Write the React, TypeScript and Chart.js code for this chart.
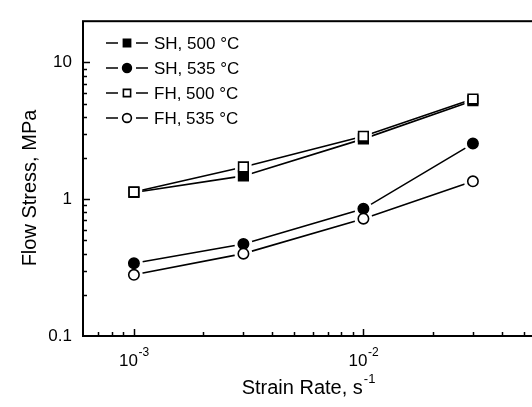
import React, { useEffect, useRef } from 'react';
import { Chart, registerables } from 'chart.js';

Chart.register(...registerables);

// ---- data ----
const strainRates = [1e-3, 3e-3, 1e-2, 3e-2];
const sh500 = [1.12, 1.48, 2.76, 5.25];
const sh535 = [0.34, 0.47, 0.85, 2.55];
const fh500 = [1.13, 1.72, 2.88, 5.4];
const fh535 = [0.28, 0.4, 0.72, 1.35];
const seriesLabels = ['SH, 500 °C', 'SH, 535 °C', 'FH, 500 °C', 'FH, 535 °C'];
const seriesValues = [sh500, sh535, fh500, fh535];
const seriesShapes = ['rect', 'circle', 'rect', 'circle'];
const seriesFilled = [true, true, false, false];

const yMajorTicks = [0.1, 1, 10];
const yTickLabels = ['0.1', '1', '10'];
const xMajorTicks = [1e-3, 1e-2];
const xTickExponents = ['-3', '-2'];
const xTitle = 'Strain Rate, s';
const xTitleSup = '-1';
const yTitle = 'Flow Stress, MPa';
const X_MIN = 6e-4;
const X_MAX = 6e-2;
const Y_MIN = 0.1;
const Y_MAX = 20;

const FONT = '"Liberation Sans", Arial, Helvetica, sans-serif';
const W = 560;
const H = 407;

function markerRadius(shape: string) {
  return shape === 'rect' ? 6.8 : 5.2;
}

function drawMarker(ctx: CanvasRenderingContext2D, shape: string, filled: boolean, x: number, y: number) {
  ctx.save();
  ctx.lineWidth = 1.6;
  ctx.strokeStyle = '#000';
  ctx.fillStyle = filled ? '#000' : '#fff';
  ctx.beginPath();
  if (shape === 'rect') {
    const s = 3.6;
    ctx.rect(x - s, y - s, 2 * s, 2 * s);
  } else {
    ctx.arc(x, y, 4.4, 0, Math.PI * 2);
  }
  ctx.fill();
  ctx.stroke();
  ctx.restore();
}

const decorPlugin = {
  id: 'decor',
  afterDatasetDraw(chart: any, args: any) {
    // after the last connecting line is drawn, clear a small gap round every marker
    const ds = chart.data.datasets[args.index];
    if (!ds || ds.label !== seriesLabels[0] + ' line') return;
    const ctx: CanvasRenderingContext2D = chart.ctx;
    const xs = chart.scales.x;
    const ys = chart.scales.y;
    ctx.save();
    ctx.fillStyle = '#fff';
    seriesValues.forEach((vals, i) => {
      strainRates.forEach((x, j) => {
        const px = xs.getPixelForValue(x);
        const py = ys.getPixelForValue(vals[j]);
        ctx.beginPath();
        if (seriesShapes[i] === 'rect') {
          const s = 8.2;
          ctx.rect(px - s, py - s, 2 * s, 2 * s);
        } else {
          ctx.arc(px, py, 9, 0, Math.PI * 2);
        }
        ctx.fill();
      });
    });
    ctx.restore();
  },
  afterDraw(chart: any) {
    const ctx: CanvasRenderingContext2D = chart.ctx;
    const { left, right, top, bottom } = chart.chartArea;
    const xs = chart.scales.x;
    const ys = chart.scales.y;
    ctx.save();
    // frame
    ctx.strokeStyle = '#000';
    ctx.lineWidth = 2;
    ctx.strokeRect(left, top, right - left, bottom - top);

    // ticks (inward)
    ctx.lineWidth = 1.5;
    const xTickVals: { v: number; major: boolean }[] = [];
    for (let d = -4; d <= -2; d++) {
      for (let m = 1; m <= 9; m++) {
        const v = m * Math.pow(10, d);
        if (v > X_MIN * 1.0001 && v < X_MAX * 0.9999) xTickVals.push({ v, major: m === 1 });
      }
    }
    xTickVals.forEach(({ v, major }) => {
      const px = Math.round(xs.getPixelForValue(v)) + 0.5;
      ctx.beginPath();
      ctx.moveTo(px, bottom);
      ctx.lineTo(px, bottom - (major ? 7 : 4));
      ctx.stroke();
    });
    const yTickVals: { v: number; major: boolean }[] = [];
    for (let d = -1; d <= 1; d++) {
      for (let m = 1; m <= 9; m++) {
        const v = m * Math.pow(10, d);
        if (v > Y_MIN * 1.0001 && v < Y_MAX * 0.9999) yTickVals.push({ v, major: m === 1 });
      }
    }
    yTickVals.forEach(({ v, major }) => {
      const py = Math.round(ys.getPixelForValue(v)) + 0.5;
      ctx.beginPath();
      ctx.moveTo(left, py);
      ctx.lineTo(left + (major ? 7 : 4), py);
      ctx.stroke();
    });

    // x tick labels with superscript
    ctx.fillStyle = '#000';
    ctx.textBaseline = 'alphabetic';
    xMajorTicks.forEach((v, i) => {
      const px = xs.getPixelForValue(v);
      ctx.font = `17px ${FONT}`;
      const wb = ctx.measureText('10').width;
      ctx.font = `12px ${FONT}`;
      const we = ctx.measureText(xTickExponents[i]).width;
      const x0 = px - (wb + we) / 2;
      ctx.font = `17px ${FONT}`;
      ctx.textAlign = 'left';
      ctx.fillText('10', x0, bottom + 30);
      ctx.font = `12px ${FONT}`;
      ctx.fillText(xTickExponents[i], x0 + wb + 0.5, bottom + 20);
    });

    // x title
    ctx.font = `20px ${FONT}`;
    const wt = ctx.measureText(xTitle).width;
    ctx.font = `13px ${FONT}`;
    const ws = ctx.measureText(xTitleSup).width;
    const cx = 308;
    const tx0 = cx - (wt + ws) / 2;
    ctx.font = `20px ${FONT}`;
    ctx.textAlign = 'left';
    ctx.fillText(xTitle, tx0, bottom + 58);
    ctx.font = `13px ${FONT}`;
    ctx.fillText(xTitleSup, tx0 + wt + 1, bottom + 47);

    // y title
    ctx.save();
    ctx.translate(30, 188);
    ctx.rotate(-Math.PI / 2);
    ctx.font = `20px ${FONT}`;
    ctx.textAlign = 'center';
    ctx.textBaseline = 'middle';
    ctx.fillText(yTitle, 0, 0);
    ctx.restore();

    // legend
    seriesLabels.forEach((label, i) => {
      const ly = 43 + i * 25;
      ctx.lineWidth = 1.6;
      ctx.strokeStyle = '#000';
      ctx.beginPath();
      ctx.moveTo(106, ly);
      ctx.lineTo(118, ly);
      ctx.moveTo(136, ly);
      ctx.lineTo(148, ly);
      ctx.stroke();
      drawMarker(ctx, seriesShapes[i], seriesFilled[i], 127, ly);
      ctx.font = `17px ${FONT}`;
      ctx.fillStyle = '#000';
      ctx.textAlign = 'left';
      ctx.textBaseline = 'middle';
      ctx.fillText(label, 154, ly + 1);
    });
    ctx.restore();
  },
};

export default function App() {
  const canvasRef = useRef<HTMLCanvasElement | null>(null);

  useEffect(() => {
    document.body.style.margin = '0';
    const canvas = canvasRef.current;
    if (!canvas) return;

    const datasets: any[] = [];
    seriesValues.forEach((vals, i) => {
      const pts = strainRates.map((x, j) => ({ x, y: vals[j] }));
      const shape = seriesShapes[i];
      const r = markerRadius(shape);
      datasets.push({
        label: seriesLabels[i] + ' line',
        data: pts,
        showLine: true,
        borderColor: '#000',
        borderWidth: 1.6,
        pointRadius: 0,
        order: 10,
      });
      datasets.push({
        label: seriesLabels[i],
        data: pts,
        showLine: false,
        pointStyle: shape,
        pointRadius: r,
        pointBackgroundColor: seriesFilled[i] ? '#000' : '#fff',
        pointBorderColor: '#000',
        pointBorderWidth: 1.6,
        order: seriesFilled[i] ? 2 : 1,
      });
    });

    const chart = new Chart(canvas, {
      type: 'scatter',
      data: { datasets },
      options: {
        responsive: false,
        animation: false,
        devicePixelRatio: 1,
        layout: { padding: { left: 0, top: 14, right: W - 542, bottom: 0 } },
        plugins: {
          legend: { display: false },
          tooltip: { enabled: false },
        },
        scales: {
          x: {
            type: 'logarithmic',
            min: X_MIN,
            max: X_MAX,
            grid: { display: false, drawTicks: false },
            border: { display: false },
            ticks: { display: false },
            afterFit: (scale: any) => {
              scale.height = 71;
            },
          },
          y: {
            type: 'logarithmic',
            min: Y_MIN,
            max: Y_MAX,
            grid: { display: false, drawTicks: false },
            border: { display: false },
            afterBuildTicks: (scale: any) => {
              scale.ticks = yMajorTicks.map((v) => ({ value: v, major: true }));
            },
            ticks: {
              color: '#000',
              padding: 11,
              font: { family: FONT, size: 17 },
              callback: (_v: any, index: number) => yTickLabels[index] ?? '',
            },
            afterFit: (scale: any) => {
              scale.width = 83;
            },
          },
        },
      } as any,
      plugins: [decorPlugin],
    });

    return () => chart.destroy();
  }, []);

  return (
    <div style={{ width: 532, height: 407, overflow: 'hidden', position: 'relative', background: '#fff' }}>
      <canvas ref={canvasRef} width={W} height={H} style={{ width: W, height: H, display: 'block' }} />
    </div>
  );
}
